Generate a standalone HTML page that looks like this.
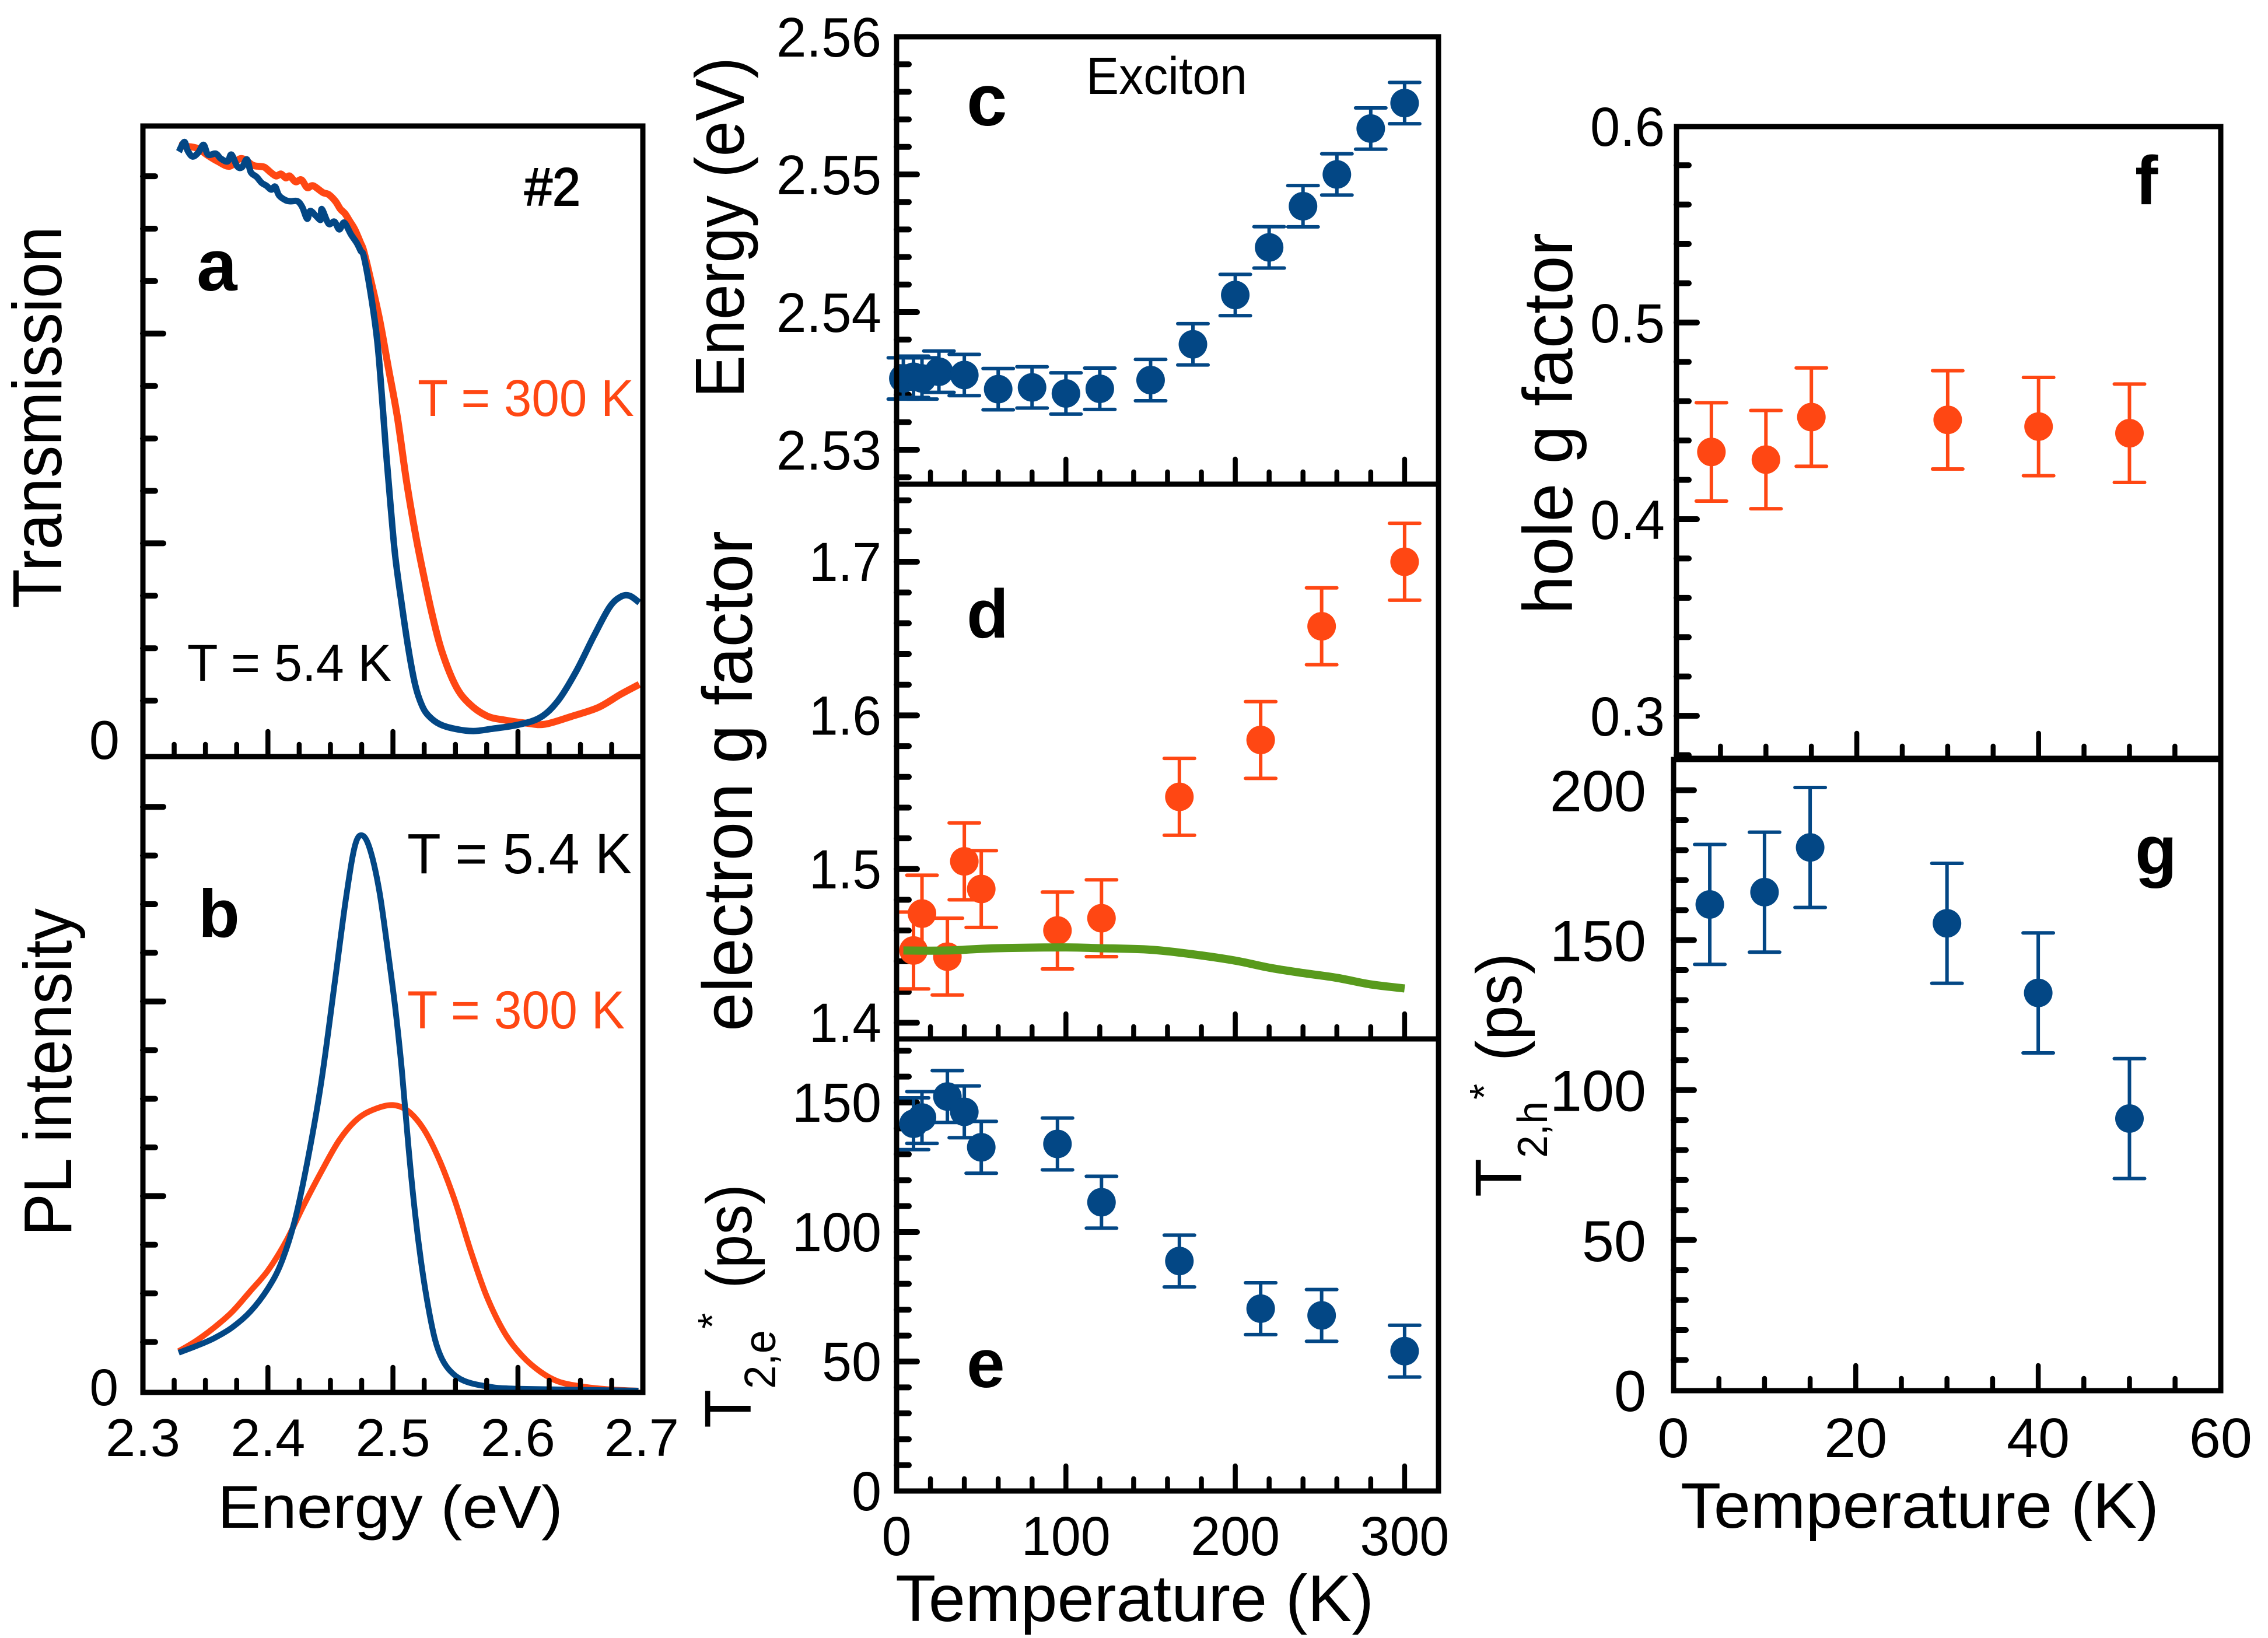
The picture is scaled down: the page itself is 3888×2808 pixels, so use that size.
<!DOCTYPE html>
<html lang="en">
<head>
<meta charset="utf-8">
<title>Exciton spectra, g factors and coherence times</title>
<style>
html,body{margin:0;padding:0;background:#fff;}
svg{display:block;font-family:"Liberation Sans",Arial,sans-serif;}
</style>
</head>
<body>
<svg id="figure" xmlns="http://www.w3.org/2000/svg" width="3888" height="2808" viewBox="0 0 3888 2808">
  <rect x="0" y="0" width="3888" height="2808" fill="#ffffff"></rect>
  <g id="p-a"></g>
  <g id="p-b"></g>
  <g id="p-c"></g>
  <g id="p-d"></g>
  <g id="p-e"></g>
  <g id="p-f"></g>
  <g id="p-g"></g>
</svg>
<script>
// ---------- data: panel a ----------
const aBlueEnergy = [2.3288,2.3331,2.3358,2.3397,2.3443,2.3485,2.3521,2.3583,2.3622,2.3677,2.3708,2.3754,2.3793,2.3832,2.3863,2.3910,2.3949,2.3988,2.4027,2.4058,2.4089,2.4143,2.4182,2.4237,2.4275,2.4314,2.4338,2.4384,2.4423,2.4431,2.4485,2.4532,2.4571,2.4610,2.4664,2.4711,2.4742,2.4768,2.4821,2.4875,2.4911,2.4946,2.4982,2.5018,2.5071,2.5125,2.5179,2.5232,2.5286,2.5375,2.55,2.5643,2.5786,2.6,2.6179,2.6321,2.6464,2.6607,2.6732,2.6821,2.6893,2.6971];
const aBlueValue = [11.468,11.654,11.487,11.376,11.450,11.598,11.413,11.431,11.338,11.283,11.413,11.190,11.172,11.320,11.079,10.986,10.875,10.819,10.745,10.801,10.634,10.541,10.523,10.523,10.411,10.189,10.337,10.245,10.170,10.374,10.096,10.133,9.985,10.115,9.892,9.725,9.577,9.46,8.78,7.85,6.83,5.72,4.70,3.76,2.83,1.97,1.29,0.91,0.71,0.55,0.46,0.42,0.46,0.54,0.68,1.0,1.55,2.23,2.78,2.98,3.0,2.87];
const aOrangeEnergy = [2.3288,2.3381,2.3443,2.3521,2.3599,2.3692,2.3786,2.3879,2.3925,2.3972,2.4019,2.4065,2.4104,2.4143,2.4174,2.4221,2.4268,2.4314,2.4361,2.4439,2.4485,2.4540,2.4579,2.4618,2.4657,2.4695,2.4742,2.4766,2.4821,2.4893,2.4964,2.5036,2.5107,2.5179,2.525,2.5321,2.5393,2.55,2.5607,2.575,2.5893,2.6071,2.6214,2.6429,2.6643,2.6821,2.6971];
const aOrangeValue = [11.580,11.561,11.524,11.394,11.283,11.190,11.338,11.209,11.190,11.172,11.079,11.005,11.042,10.968,11.005,10.894,10.931,10.782,10.819,10.690,10.653,10.523,10.375,10.282,10.133,9.985,9.725,9.577,9.04,8.27,7.34,6.40,5.21,4.19,3.34,2.57,1.93,1.29,0.95,0.71,0.63,0.57,0.55,0.70,0.87,1.12,1.31];
// ---------- data: panel b ----------
const bBlueEnergy = [2.3286,2.3429,2.3571,2.3714,2.3857,2.4,2.4107,2.4214,2.4321,2.4429,2.4536,2.4625,2.4696,2.4757,2.4821,2.4893,2.4964,2.5018,2.5071,2.5125,2.5179,2.5232,2.5286,2.5339,2.5393,2.5464,2.5571,2.575,2.6,2.6964];
const bBlueValue = [0.78,0.92,1.08,1.30,1.62,2.10,2.63,3.49,4.78,6.38,8.42,10.13,11.2,11.41,11.09,10.24,8.95,7.88,6.60,4.99,3.60,2.53,1.67,1.03,0.65,0.39,0.20,0.09,0.04,0];
const bOrangeEnergy = [2.3286,2.3429,2.3571,2.3714,2.3857,2.4,2.4143,2.4286,2.4429,2.4571,2.4714,2.4857,2.5,2.5125,2.525,2.5375,2.55,2.5625,2.575,2.5893,2.6036,2.6179,2.6321,2.65,2.6714,2.6964];
const bOrangeValue = [0.81,1.03,1.30,1.62,2.04,2.47,3.06,3.81,4.51,5.15,5.58,5.79,5.87,5.74,5.36,4.72,3.87,2.85,1.94,1.19,0.71,0.39,0.19,0.09,0.03,0];
const energyTickLabels = ['2.3','2.4','2.5','2.6','2.7'];
// ---------- data: panel c ----------
const cTemps = [4,10,15,25,40,60,80,100,120,150,175,200,220,240,260,280,300];
const cEnergy = [2.53518,2.5353,2.53518,2.53567,2.53543,2.5344,2.53453,2.53409,2.53443,2.53506,2.53766,2.54124,2.5447,2.54769,2.55,2.55333,2.55518];
const cError = [0.0015,0.0015,0.0015,0.0015,0.0015,0.0015,0.0015,0.0015,0.0015,0.0015,0.0015,0.0015,0.0015,0.0015,0.0015,0.0015,0.0015];
const cTickLabels = ['2.56','2.55','2.54','2.53'];
// ---------- data: panel d ----------
const dTemps = [10,15,30,40,50,95,121,167,215,251,300];
const dG = [1.447,1.471,1.443,1.505,1.487,1.460,1.468,1.547,1.584,1.658,1.70];
const dError = [0.025,0.025,0.025,0.025,0.025,0.025,0.025,0.025,0.025,0.025,0.025];
const dFitTemps = [4,30,60,100,120,150,175,200,220,240,260,280,300];
const dFitG = [1.447,1.447,1.4485,1.449,1.4485,1.4475,1.4445,1.4404,1.4358,1.4323,1.4292,1.4249,1.4223];
const dTickLabels = ['1.7','1.6','1.5','1.4'];
// ---------- data: panel e ----------
const eTemps = [10,15,30,40,50,95,121,167,215,251,300];
const eT2 = [141.8,144.2,152.3,146.4,132.7,134,111.5,88.8,70.4,67.8,54];
const eError = [10,10,10,10,10,10,10,10,10,10,10];
const eTickLabels = ['150','100','50','0'];
const highTempTickLabels = ['0','100','200','300'];
// ---------- data: panel f ----------
const fTemps = [4,10,15,30,40,50];
const fG = [0.4342,0.4303,0.4519,0.4505,0.4471,0.4437];
const fError = [0.025,0.025,0.025,0.025,0.025,0.025];
const fTickLabels = ['0.6','0.5','0.4','0.3'];
// ---------- data: panel g ----------
const gTemps = [4,10,15,30,40,50];
const gT2 = [161.9,166,180.9,155.6,132.4,90.5];
const gError = [20,20,20,20,20,20];
const gTickLabels = ['200','150','100','50','0'];
const lowTempTickLabels = ['0','20','40','60'];

// ---------- colours ----------
const BLUE = '#034785';
const ORANGE = '#ff4713';
const GREEN = '#589a1c';

// ---------- helpers ----------
const NS = 'http://www.w3.org/2000/svg';
function make(tag, parent, name) {
  const el = document.createElementNS(NS, tag);
  
  
  parent.appendChild(el);
  return el;
}
function setAll(el, props) {
  for (const k in props) el.setAttribute(k, props[k]);
  return el;
}
function txt(parent, name, str, x, y, size, o) {
  o = o || {};
  const t = make('text', parent, name);
  t.textContent = str;
  setAll(t, {x: x, y: y, 'font-size': size, fill: o.fill || '#000', 'text-anchor': o.anchor || 'start'});
  if (o.weight) t.setAttribute('font-weight', o.weight);
  if (o.stroke) { t.setAttribute('stroke', o.fill || '#000'); t.setAttribute('stroke-width', o.stroke); }
  if (o.len) { t.setAttribute('textLength', o.len); t.setAttribute('lengthAdjust', 'spacingAndGlyphs'); }
  if (o.rot) t.setAttribute('transform', 'rotate(-90 ' + x + ' ' + y + ')');
  return t;
}
function frame(parent, p) {
  const r = make('rect', parent, 'plot-frame');
  setAll(r, {x: p.L, y: p.T, width: p.R - p.L, height: p.B - p.T, fill: 'none', stroke: '#000', 'stroke-width': 9});
}
function tick(parent, name, x1, y1, x2, y2, w) {
  const l = make('line', parent, name);
  setAll(l, {x1: x1, y1: y1, x2: x2, y2: y2, stroke: '#000', 'stroke-width': w, 'stroke-linecap': 'round'});
}
function yTicks(parent, p, sy, base, step, from, to, majorEvery) {
  for (let i = from; i <= to; i++) {
    const major = ((i % majorEvery) + majorEvery) % majorEvery === 0;
    const y = sy(base + i * step);
    tick(parent, major ? 'y-major-tick' : 'y-minor-tick', p.L, y, p.L + (major ? 35 : 21), y, 10);
  }
}
function xTicks(parent, p, sx, base, step, from, to, majorEvery) {
  for (let i = from; i <= to; i++) {
    const major = i % majorEvery === 0;
    const x = sx(base + i * step);
    tick(parent, major ? 'x-major-tick' : 'x-minor-tick', x, p.B, x, p.B - (major ? 43 : 21), 8.5);
  }
}
function linePath(xs, ys, sx, sy) {
  const pts = xs.map(function (v, i) { return [sx(v), sy(ys[i])]; });
  let d = 'M' + pts[0][0].toFixed(1) + ' ' + pts[0][1].toFixed(1);
  for (let i = 0; i < pts.length - 1; i++) {
    const p0 = pts[Math.max(0, i - 1)], p1 = pts[i], p2 = pts[i + 1], p3 = pts[Math.min(pts.length - 1, i + 2)];
    const c1x = p1[0] + (p2[0] - p0[0]) / 6, c1y = p1[1] + (p2[1] - p0[1]) / 6;
    const c2x = p2[0] - (p3[0] - p1[0]) / 6, c2y = p2[1] - (p3[1] - p1[1]) / 6;
    d += 'C' + c1x.toFixed(1) + ' ' + c1y.toFixed(1) + ' ' + c2x.toFixed(1) + ' ' + c2y.toFixed(1) + ' ' + p2[0].toFixed(1) + ' ' + p2[1].toFixed(1);
  }
  return d;
}
function curve(parent, name, xs, ys, sx, sy, color, width) {
  const c = make('path', parent, name);
  setAll(c, {d: linePath(xs, ys, sx, sy), fill: 'none', stroke: color, 'stroke-width': width, 'stroke-linejoin': 'round', 'stroke-linecap': 'butt'});
}
function points(parent, name, xs, ys, errs, sx, sy, color) {
  const capHalf = 26;
  xs.forEach(function (v, i) {
    const x = sx(v), yt = sy(ys[i] + errs[i]), yb = sy(ys[i] - errs[i]);
    const stem = make('line', parent, name + '-error-bar');
    setAll(stem, {x1: x, y1: yt, x2: x, y2: yb, stroke: color, 'stroke-width': 6});
    const capTop = make('line', parent, name + '-error-cap');
    setAll(capTop, {x1: x - capHalf, y1: yt, x2: x + capHalf, y2: yt, stroke: color, 'stroke-width': 6, 'stroke-linecap': 'round'});
    const capBottom = make('line', parent, name + '-error-cap');
    setAll(capBottom, {x1: x - capHalf, y1: yb, x2: x + capHalf, y2: yb, stroke: color, 'stroke-width': 6, 'stroke-linecap': 'round'});
  });
  xs.forEach(function (v, i) {
    const c = make('circle', parent, name + '-point');
    setAll(c, {cx: sx(v), cy: sy(ys[i]), r: 24.5, fill: color});
  });
}
function group(id) { return document.getElementById(id); }

// ---------- panel a ----------
(function () {
  const g = group('p-a');
  const p = {L: 245, R: 1102, T: 216, B: 1297};
  const sx = function (e) { return 245 + (e - 2.3) * 2143; };
  const sy = function (v) { return 1291 - v * 89.9; };
  curve(g, 'transmission-300k-line', aOrangeEnergy, aOrangeValue, sx, sy, ORANGE, 12);
  curve(g, 'transmission-5k-line', aBlueEnergy, aBlueValue, sx, sy, BLUE, 11);
  yTicks(g, p, sy, 0, 1, 1, 11, 4);
  xTicks(g, p, sx, 2.3, 0.025, 1, 15, 4);
  frame(g, p);
  txt(g, 'y-axis-title', 'Transmission', 105, 1043, 119, {rot: true, len: 655});
  txt(g, 'y-tick-label', '0', 205, 1301, 94, {anchor: 'end'});
  txt(g, 'sample-label', '#2', 899, 352, 92, {len: 96, stroke: 2});
  txt(g, 'panel-letter-a', 'a', 337, 498, 125, {weight: 'bold'});
  txt(g, 'label-300k', 'T = 300 K', 716, 713, 89, {fill: ORANGE, len: 371});
  txt(g, 'label-5k', 'T = 5.4 K', 321, 1167, 89, {len: 350});
})();

// ---------- panel b ----------
(function () {
  const g = group('p-b');
  const p = {L: 245, R: 1102, T: 1297, B: 2387};
  const sx = function (e) { return 245 + (e - 2.3) * 2143; };
  const sy = function (v) { return 2384 - v * 83.4; };
  curve(g, 'pl-300k-line', bOrangeEnergy, bOrangeValue, sx, sy, ORANGE, 10);
  curve(g, 'pl-5k-line', bBlueEnergy, bBlueValue, sx, sy, BLUE, 10);
  yTicks(g, p, sy, 0, 1, 1, 12, 4);
  xTicks(g, p, sx, 2.3, 0.025, 1, 15, 4);
  frame(g, p);
  energyTickLabels.forEach(function (s) {
    const cx = Math.min(sx(parseFloat(s)), 1100);
    txt(g, 'x-tick-label', s, cx, 2496, 91, {anchor: 'middle', len: 128});
  });
  txt(g, 'y-tick-label', '0', 203, 2409, 89, {anchor: 'end'});
  txt(g, 'y-axis-title', 'PL intensity', 122, 2119, 116, {rot: true, len: 562});
  txt(g, 'x-axis-title', 'Energy (eV)', 373, 2619, 103, {len: 592});
  txt(g, 'panel-letter-b', 'b', 340, 1606, 116, {weight: 'bold'});
  txt(g, 'label-5k', 'T = 5.4 K', 698, 1497, 97, {len: 385});
  txt(g, 'label-300k', 'T = 300 K', 698, 1763, 92, {fill: ORANGE, len: 373});
})();

// ---------- temperature axes c, d, e ----------
const sxHigh = function (t) { return 1537 + t * 2.903; };

(function () {
  const g = group('p-c');
  const p = {L: 1537, R: 2466, T: 63, B: 830};
  const sy = function (v) { return 299 + (2.55 - v) * 23600; };
  yTicks(g, p, sy, 2.53, 0.002, -1, 14, 5);
  xTicks(g, p, sxHigh, 0, 20, 1, 15, 5);
  points(g, 'exciton-energy', cTemps, cEnergy, cError, sxHigh, sy, BLUE);
  frame(g, p);
  cTickLabels.forEach(function (s) {
    txt(g, 'y-tick-label', s, 1511, sy(parseFloat(s)) + 34, 96, {anchor: 'end', len: 180});
  });
  txt(g, 'y-axis-title', 'Energy (eV)', 1275, 682, 119, {rot: true, len: 584});
  txt(g, 'panel-letter-c', 'c', 1657, 215, 125, {weight: 'bold'});
  txt(g, 'exciton-label', 'Exciton', 1862, 161, 90, {len: 276});
})();

(function () {
  const g = group('p-d');
  const p = {L: 1537, R: 2466, T: 830, B: 1781};
  const sy = function (v) { return 963 + (1.7 - v) * 2634; };
  yTicks(g, p, sy, 1.4, 0.02, 0, 17, 5);
  xTicks(g, p, sxHigh, 0, 20, 1, 15, 5);
  points(g, 'electron-g', dTemps, dG, dError, sxHigh, sy, ORANGE);
  curve(g, 'electron-g-theory-line', dFitTemps, dFitG, sxHigh, sy, GREEN, 14);
  frame(g, p);
  dTickLabels.forEach(function (s) {
    txt(g, 'y-tick-label', s, 1511, sy(parseFloat(s)) + 33, 95, {anchor: 'end', len: 124});
  });
  txt(g, 'y-axis-title', 'electron g factor', 1289, 1768, 121, {rot: true, len: 858});
  txt(g, 'panel-letter-d', 'd', 1657, 1093, 118, {weight: 'bold'});
})();

(function () {
  const g = group('p-e');
  const p = {L: 1537, R: 2466, T: 1781, B: 2556};
  const sy = function (v) { return 2556 - v * 4.44; };
  yTicks(g, p, sy, 0, 10, 1, 17, 5);
  xTicks(g, p, sxHigh, 0, 20, 1, 15, 5);
  points(g, 'electron-t2', eTemps, eT2, eError, sxHigh, sy, BLUE);
  frame(g, p);
  eTickLabels.forEach(function (s) {
    txt(g, 'y-tick-label', s, 1511, sy(parseFloat(s)) + 33, 95, {anchor: 'end', len: s.length * 51});
  });
  highTempTickLabels.forEach(function (s) {
    txt(g, 'x-tick-label', s, sxHigh(parseFloat(s)), 2666, 95, {anchor: 'middle', len: s.length * 51});
  });
  txt(g, 'x-axis-title', 'Temperature (K)', 1535, 2779, 113, {len: 820});
  txt(g, 'y-axis-title-t', 'T', 1287, 2448, 113, {rot: true, len: 66});
  txt(g, 'y-axis-title-subscript', '2,e', 1329, 2381, 76, {rot: true, len: 101});
  txt(g, 'y-axis-title-star', '*', 1245, 2278, 70, {rot: true});
  txt(g, 'y-axis-title-unit', '(ps)', 1288, 2209, 110, {rot: true, len: 179});
  txt(g, 'panel-letter-e', 'e', 1657, 2378, 118, {weight: 'bold'});
})();

// ---------- panel f ----------
(function () {
  const g = group('p-f');
  const p = {L: 2874, R: 3807, T: 217, B: 1300};
  const sx = function (t) { return 2871.5 + t * 15.58; };
  const sy = function (v) { return 890 - (v - 0.4) * 3371; };
  yTicks(g, p, sy, 0.3, 0.02, -1, 14, 5);
  xTicks(g, p, sx, 0, 5, 1, 11, 4);
  points(g, 'hole-g', fTemps, fG, fError, sx, sy, ORANGE);
  frame(g, p);
  fTickLabels.forEach(function (s) {
    txt(g, 'y-tick-label', s, 2854, sy(parseFloat(s)) + 34, 95, {anchor: 'end', len: 128});
  });
  txt(g, 'y-axis-title', 'hole g factor', 2695, 1053, 120, {rot: true, len: 654});
  txt(g, 'panel-letter-f', 'f', 3660, 350, 118, {weight: 'bold'});
})();

// ---------- panel g ----------
(function () {
  const g = group('p-g');
  const p = {L: 2869, R: 3807, T: 1302, B: 2384};
  const sx = function (t) { return 2868.5 + t * 15.64; };
  const sy = function (v) { return 2382.8 - v * 5.141; };
  yTicks(g, p, sy, 0, 10, 1, 20, 5);
  xTicks(g, p, sx, 0, 5, 1, 11, 4);
  points(g, 'hole-t2', gTemps, gT2, gError, sx, sy, BLUE);
  frame(g, p);
  gTickLabels.forEach(function (s) {
    txt(g, 'y-tick-label', s, 2822, sy(parseFloat(s)) + 36, 99, {anchor: 'end'});
  });
  lowTempTickLabels.forEach(function (s) {
    txt(g, 'x-tick-label', s, sx(parseFloat(s)), 2498, 96, {anchor: 'middle', len: s.length * 54});
  });
  txt(g, 'x-axis-title', 'Temperature (K)', 2881, 2619, 110, {len: 820});
  txt(g, 'y-axis-title-t', 'T', 2608, 2052, 113, {rot: true, len: 66});
  txt(g, 'y-axis-title-subscript', '2,h', 2652, 1985, 72, {rot: true, len: 97});
  txt(g, 'y-axis-title-star', '*', 2568, 1885, 70, {rot: true});
  txt(g, 'y-axis-title-unit', '(ps)', 2608, 1819, 110, {rot: true, len: 185});
  txt(g, 'panel-letter-g', 'g', 3660, 1498, 118, {weight: 'bold'});
})();
</script>
</body>
</html>
